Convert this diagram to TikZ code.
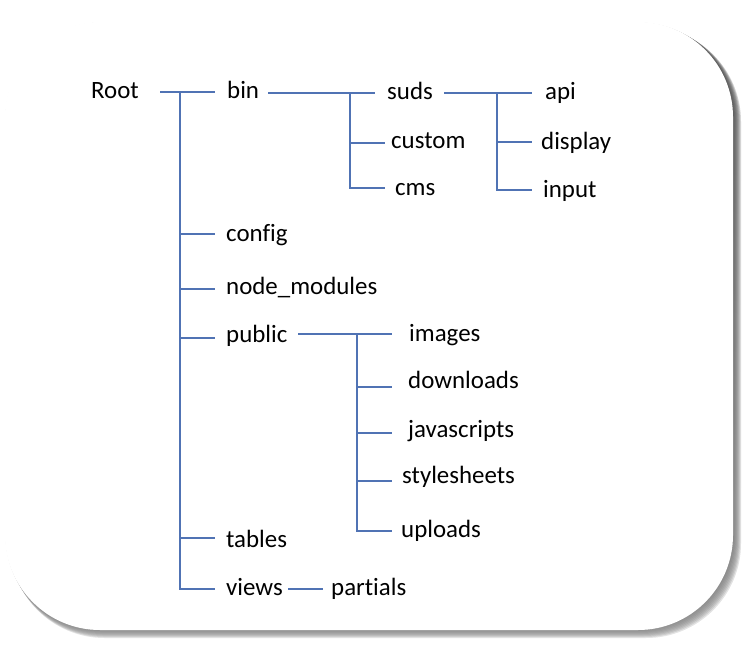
\documentclass[tikz,border=0pt]{standalone}
\usepackage{fontspec}
\setmainfont{Carlito}[Ligatures=NoCommon]
\definecolor{linec}{RGB}{80,115,180}
\definecolor{shade}{RGB}{110,110,110}
\begin{document}
\begin{tikzpicture}[x=1pt,y=-1pt,
  lbl/.style={anchor=base west, inner sep=0pt, font=\fontsize{24.9}{29}\selectfont, text=black},
  conn/.style={draw=linec, line width=1.2pt}]
\useasboundingbox (0,0) rectangle (743,645);
% shadow
\foreach \d in {1,2,3,4,5,6,7,8}{
  \fill[shade, opacity=0.12, rounded corners=95pt] (5+\d*0.6,22+\d*0.6) rectangle (733+\d,630+\d);
}
\fill[white, rounded corners=95pt] (5,22) rectangle (733,630);
% labels
\node[lbl] (root) at (91,98) {Root};
\node[lbl] (bin) at (227,98) {bin};
\node[lbl] (suds) at (387,99) {suds};
\node[lbl] (custom) at (391,148) {custom};
\node[lbl] (cms) at (395,195) {cms};
\node[lbl] (api) at (545,99) {api};
\node[lbl] (display) at (541,149) {display};
\node[lbl] (input) at (543,197) {input};
\node[lbl] (config) at (226,241) {config};
\node[lbl] (nodemod) at (226,294) {node\_modules};
\node[lbl] (public) at (226,342) {public};
\node[lbl] (images) at (409,341) {images};
\node[lbl] (downloads) at (408,388) {downloads};
\node[lbl] (javascripts) at (408,437) {javascripts};
\node[lbl] (stylesheets) at (402,483) {stylesheets};
\node[lbl] (uploads) at (401,537) {uploads};
\node[lbl] (tables) at (226,547) {tables};
\node[lbl] (views) at (226,595) {views};
\node[lbl] (partials) at (331,595) {partials};
% connector points
\coordinate (rootR) at (160,92);
\coordinate (binL) at (215,92);
\coordinate (rootJ) at (180,92);
\coordinate (configL) at (215,234);
\coordinate (nodemodL) at (215,289);
\coordinate (publicL) at (215,338);
\coordinate (tablesL) at (215,538);
\coordinate (viewsL) at (215,589);
\coordinate (binR) at (268,93);
\coordinate (sudsL) at (375,93);
\coordinate (binJ) at (350,93);
\coordinate (customL) at (385,143);
\coordinate (cmsL) at (385,188);
\coordinate (sudsR) at (444,93);
\coordinate (apiL) at (532,93);
\coordinate (sudsJ) at (497,93);
\coordinate (displayL) at (532,142);
\coordinate (inputL) at (532,190);
\coordinate (publicR) at (298,334);
\coordinate (imagesL) at (392,334);
\coordinate (publicJ) at (357,334);
\coordinate (downloadsL) at (392,387);
\coordinate (javascriptsL) at (392,433);
\coordinate (stylesheetsL) at (392,481);
\coordinate (uploadsL) at (392,531);
\coordinate (viewsR) at (288,589);
\coordinate (partialsL) at (323,589);
% connectors
\draw[conn] (rootR) -- (binL);
\draw[conn] (rootJ) |- (viewsL);
\foreach \t in {configL,nodemodL,publicL,tablesL}{
  \draw[conn] (rootJ |- \t) -- (\t);
}
\draw[conn] (binR) -- (sudsL);
\draw[conn] (binJ) |- (cmsL);
\draw[conn] (binJ |- customL) -- (customL);
\draw[conn] (sudsR) -- (apiL);
\draw[conn] (sudsJ) |- (inputL);
\draw[conn] (sudsJ |- displayL) -- (displayL);
\draw[conn] (publicR) -- (imagesL);
\draw[conn] (publicJ) |- (uploadsL);
\foreach \t in {downloadsL,javascriptsL,stylesheetsL}{
  \draw[conn] (publicJ |- \t) -- (\t);
}
\draw[conn] (viewsR) -- (partialsL);
\end{tikzpicture}
\end{document}
